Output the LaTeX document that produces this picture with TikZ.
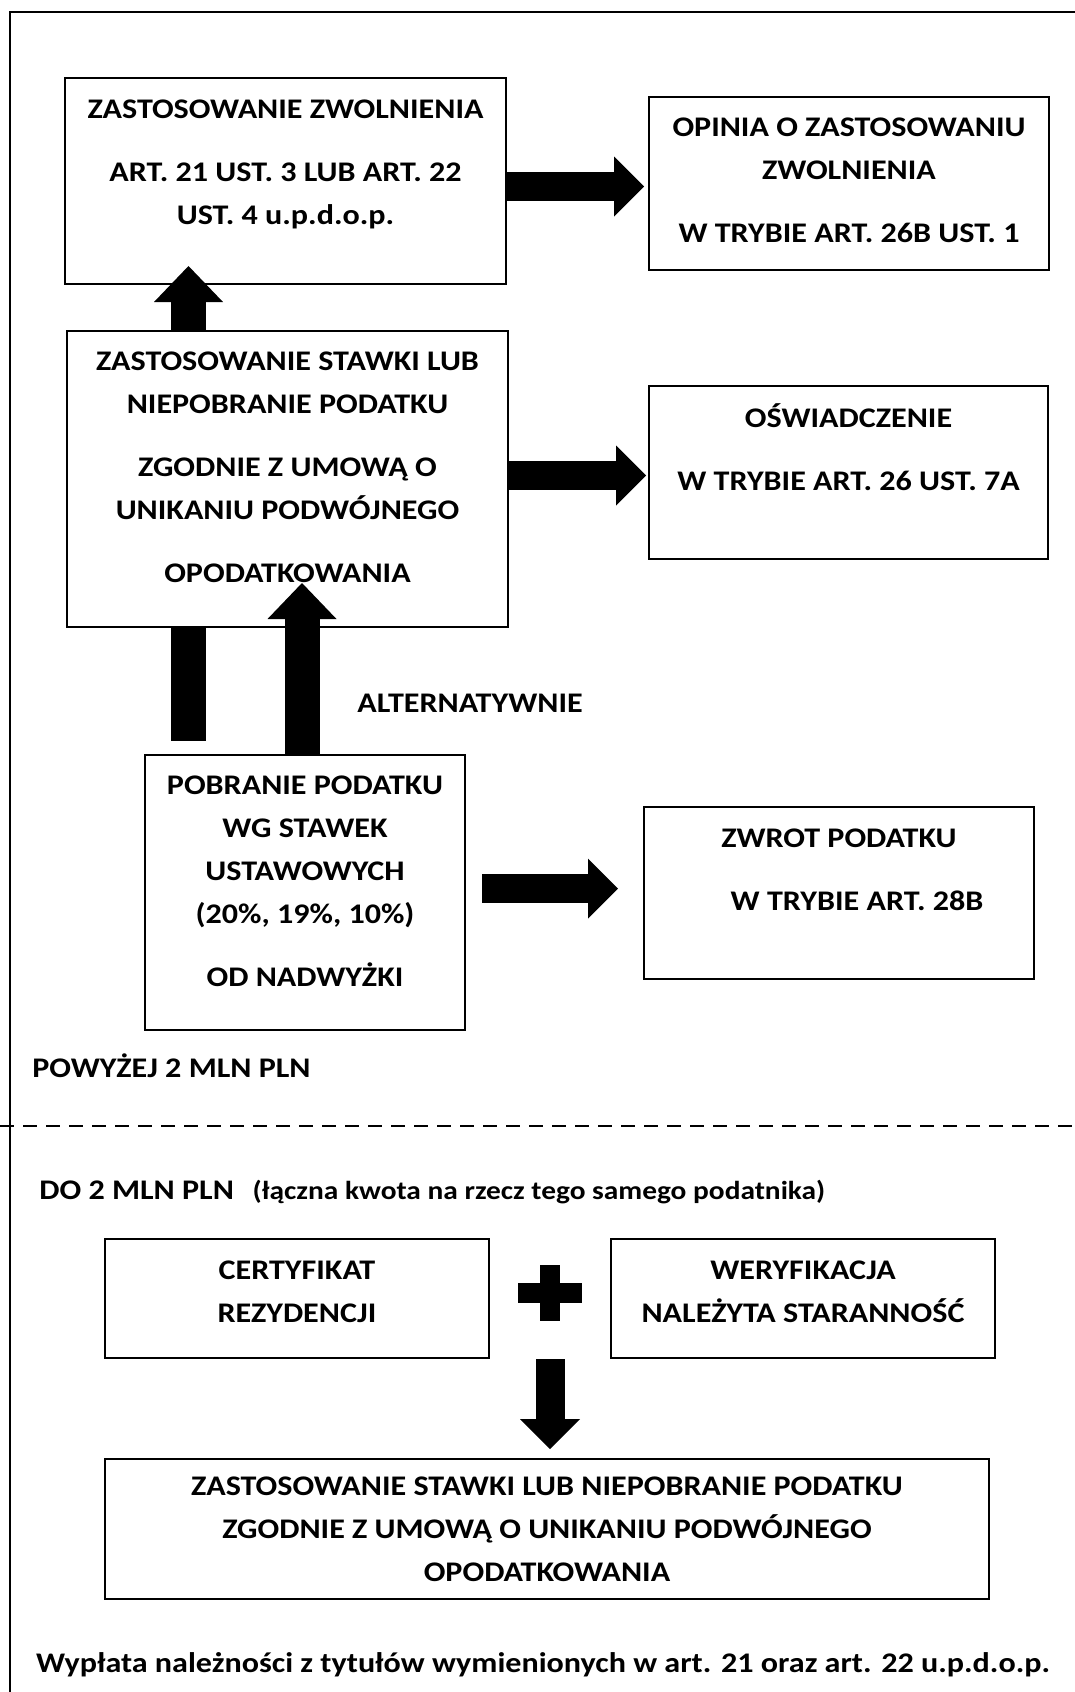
\documentclass[tikz,border=0pt]{standalone}
\usepackage{fontspec}
\setmainfont{Carlito}[FakeStretch=1.13]
\usepackage{tikz}
\usetikzlibrary{arrows.meta,positioning,calc}
\newcommand{\bpad}[1]{\rule[-#1]{0pt}{#1}}
\tikzset{
  box/.style={rectangle, draw=black, line width=1pt, align=center, inner sep=0pt,
    font=\bfseries\fontsize{14.2}{21.5}\selectfont},
  lbl/.style={font=\bfseries\fontsize{14.2}{21.5}\selectfont, inner sep=0pt},
  sm/.style={font=\bfseries\fontsize{13}{15}\selectfont, inner sep=0pt},
  fatr/.style={draw=black, line width=14.5pt, -{Triangle[length=15pt, width=30pt, line width=0pt]}},
  fatu/.style={draw=black, line width=17.5pt, -{Triangle[length=18pt, width=34.5pt, line width=0pt]}},
  plainbar/.style={draw=black, line width=17.5pt},
}

\begin{document}
\begin{tikzpicture}[x=0.5pt, y=-0.5pt]
  \useasboundingbox (0,0) rectangle (1075,1692);
  \draw[line width=1pt] (1075,12) -- (10,12) -- (10,1692);
  \draw[line width=1pt, dash pattern=on 7pt off 4.5pt] (0,1126) -- (1075,1126);

  \node[box, minimum width=220.5pt, minimum height=103pt] (zwol) at (285.5,181)
    {ZASTOSOWANIE ZWOLNIENIA\\[10pt]ART. 21 UST. 3 LUB ART. 22\\UST. 4 u.p.d.o.p.\bpad{19pt}};
  \node[box, minimum width=200pt, minimum height=86.5pt] (opinia) at (849,183.5)
    {OPINIA O ZASTOSOWANIU\\ZWOLNIENIA\\[10pt]W TRYBIE ART. 26B UST. 1\bpad{3pt}};
  \node[box, minimum width=220.5pt, minimum height=148pt] (umowa) at (287.5,479)
    {ZASTOSOWANIE STAWKI LUB\\NIEPOBRANIE PODATKU\\[10pt]ZGODNIE Z UMOWĄ O\\UNIKANIU PODWÓJNEGO\\[10pt]OPODATKOWANIA\bpad{12pt}};
  \node[box, minimum width=199.5pt, minimum height=86.5pt] (oswiad) at (848.5,472.5)
    {OŚWIADCZENIE\\[10pt]W TRYBIE ART. 26 UST. 7A\bpad{25pt}};
  \node[box, minimum width=160pt, minimum height=137.5pt] (pobr) at (305,892.5)
    {POBRANIE PODATKU\\WG STAWEK\\USTAWOWYCH\\(20\%, 19\%, 10\%)\\[10pt]OD NADWYŻKI\bpad{11pt}};
  \node[box, minimum width=195pt, minimum height=86pt] (zwrot) at (839,893)
    {ZWROT PODATKU\\[10pt]\hspace*{18pt}W TRYBIE ART. 28B\bpad{23pt}};
  \node[box, minimum width=192pt, minimum height=59.5pt] (cert) at (297,1298.5)
    {CERTYFIKAT\\REZYDENCJI\bpad{7pt}};
  \node[box, minimum width=192pt, minimum height=59.5pt] (weryf) at (803,1298.5)
    {WERYFIKACJA\\NALEŻYTA STARANNOŚĆ\bpad{7pt}};
  \node[box, minimum width=442pt, minimum height=70pt] (umowa2) at (547,1529)
    {ZASTOSOWANIE STAWKI LUB NIEPOBRANIE PODATKU\\ZGODNIE Z UMOWĄ O UNIKANIU PODWÓJNEGO\\OPODATKOWANIA};

  \node[lbl] (alt) at (470,703) {ALTERNATYWNIE};
  \node[lbl, anchor=west] (powyzej) at (32,1066) {POWYŻEJ 2 MLN PLN};
  \node[lbl, anchor=west] (do2) at (39,1190) {DO 2 MLN PLN};
  \node[sm, anchor=base west] (kwota) at ([xshift=9pt]do2.base east) {(łączna kwota na rzecz tego samego podatnika)};
  \node[lbl] (wyplata) at (543,1665) {Wypłata należności z tytułów wymienionych w art. 21 oraz art. 22 u.p.d.o.p.};

  \draw[fatu] ($(umowa.north west)+(122.5,0)$) -- ($(zwol.south west)+(124.5,-19)$);
  \draw[fatr] ($(zwol.east)+(0,5.5)$) -- ($(opinia.west)+(-4,3)$);
  \draw[fatr] ($(umowa.east)+(0,-3.5)$) -- ($(oswiad.west)+(-2,3)$);
  \draw[plainbar] ($(umowa.south west)+(122.5,0)$) -- ($(pobr.north west)+(44.5,-13)$);
  \draw[fatu] ($(pobr.north west)+(158,0)$) -- ($(umowa.south west)+(236,-45)$);
  \draw[fatr] ($(pobr.east)+(16,-4)$) -- ($(zwrot.west)+(-25,-4.5)$);
  \draw[fatr] ($(cert.south east)!.5!(weryf.south west)$) -- ($(umowa2.north)+(3,-9)$);

  \coordinate (plus) at (550,1293);
  \draw[line width=10pt] ($(plus)+(0,-28)$) -- ($(plus)+(0,28)$);
  \draw[line width=10pt] ($(plus)+(-32,0)$) -- ($(plus)+(32,0)$);
\end{tikzpicture}
\end{document}
